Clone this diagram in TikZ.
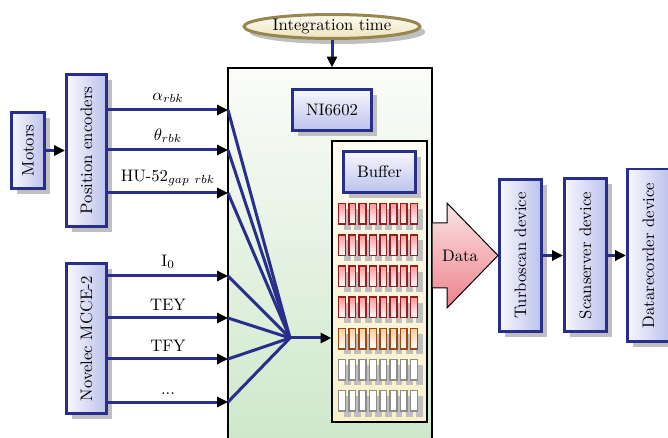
\documentclass[tikz,border=0pt]{standalone}
\usepackage{amsmath}
\usepackage{graphicx}
\usetikzlibrary{arrows.meta,shadows,shapes.geometric}

\definecolor{boxblue}{RGB}{40,46,140}
\definecolor{boxlight}{RGB}{247,247,253}
\definecolor{boxdark}{RGB}{188,194,236}
\definecolor{daqtop}{RGB}{251,252,249}
\definecolor{daqbottom}{RGB}{204,231,200}
\definecolor{buftop}{RGB}{253,252,240}
\definecolor{bufbottom}{RGB}{250,240,198}
\definecolor{khaki}{RGB}{150,134,80}
\definecolor{creamtop}{RGB}{253,251,242}
\definecolor{creambottom}{RGB}{238,228,190}
\definecolor{datatop}{RGB}{251,228,228}
\definecolor{databottom}{RGB}{238,130,140}
\definecolor{cellred}{RGB}{150,30,35}
\definecolor{cellbrown}{RGB}{150,75,25}
\definecolor{cellgray}{RGB}{140,140,140}

\tikzset{
  boxshadow/.style={drop shadow={shadow xshift=3.3pt,shadow yshift=-3.3pt,fill=black!25,opacity=1}},
  hbox/.style={draw=boxblue,line width=1.8pt,top color=boxlight,bottom color=boxdark,boxshadow,inner sep=0pt},
  vbox/.style={draw=boxblue,line width=1.8pt,left color=boxlight,right color=boxdark,boxshadow,inner sep=0pt},
  wire/.style={draw=boxblue,line width=1.8pt},
  feed/.style={wire,-{Triangle[length=6.5pt,width=6pt,black]}},
  cell/.style={line width=0.9pt,minimum width=4.1pt,minimum height=12.3pt,inner sep=0pt,boxshadow}
}

\begin{document}
\begin{tikzpicture}[auto,x=0.6pt,y=-0.6pt]
    \useasboundingbox (0,0) rectangle (668,438);
    \node[draw=black,line width=0.7pt,top color=daqtop,bottom color=daqbottom,
          minimum width=122.4pt,minimum height=235.2pt] (daq) at (330,264) {};
    \node[ellipse,draw=khaki,line width=1.8pt,top color=creamtop,bottom color=creambottom,
          boxshadow,inner sep=0pt,minimum width=105.6pt,minimum height=14.4pt] (integ) at (332,26.5) {Integration time};
    \begin{scope}[every node/.style={vbox}]
        \node[minimum width=19.8pt,minimum height=45.6pt] (motors) at (28,150.5) {\rotatebox{90}{Motors}};
        \node[minimum width=24pt,minimum height=91.2pt] (posenc) at (86.5,150.5) {\rotatebox{90}{Position encoders}};
        \node[minimum width=24pt,minimum height=90pt] (novelec) at (86.5,338.5) {\rotatebox{90}{Novelec MCCE-2}};
        \node[minimum width=25.2pt,minimum height=91.2pt] (turbo) at (520.5,255.5) {\rotatebox{90}{Turboscan device}};
        \node[minimum width=25.2pt,minimum height=91.8pt] (scanserver) at (585.5,255.5) {\rotatebox{90}{Scanserver device}};
        \node[minimum width=25.2pt,minimum height=103.8pt] (datarec) at (648.5,255.5) {\rotatebox{90}{Datarecorder device}};
    \end{scope}
    \node[hbox,minimum width=47.4pt,minimum height=24.6pt] (ni) at (332,110) {NI6602};
    \node[draw=black,line width=0.7pt,top color=buftop,bottom color=bufbottom,
          minimum width=57pt,minimum height=168.6pt] (buf) at (379.5,281.5) {};
    \node[hbox,minimum width=43.2pt,minimum height=24.6pt] (buflabel) at (379.5,172) {Buffer};
    \foreach \row/\edge/\tint in {0/cellred/red!40,1/cellred/red!40,2/cellred/red!40,3/cellred/red!40,
                                  4/cellbrown/orange!40,5/cellgray/white,6/cellgray/white}
        \foreach \col in {0,...,7}
            \node[cell,draw=\edge,top color=\tint,bottom color=white] (c\row\col) at (342+10.3*\col,214+31.15*\row) {};
    \draw[line width=0.6pt,top color=datatop,bottom color=databottom]
        (432,223) -- (447,223) -- (447,203) -- (498,255.5) -- (447,308) -- (447,288) -- (432,288) -- cycle;
    \node (data) at (460,256) {Data};
    \coordinate (ina) at (228,110);
    \coordinate (inb) at (228,150);
    \coordinate (inc) at (228,193);
    \coordinate (ind) at (228,276);
    \coordinate (ine) at (228,318);
    \coordinate (inf) at (228,359);
    \coordinate (ing) at (228,402);
    \coordinate (hub) at (290,338);
    \draw (motors) edge [feed] (posenc);
    \draw (posenc.east |- ina) edge [feed] node{$\alpha_{rbk}$} (ina);
    \draw (posenc.east |- inb) edge [feed] node{$\theta_{rbk}$} (inb);
    \draw (posenc.east |- inc) edge [feed] node{HU-52$_{gap\ rbk}$} (inc);
    \draw (novelec.east |- ind) edge [feed] node{I$_0$} (ind);
    \draw (novelec.east |- ine) edge [feed] node{TEY} (ine);
    \draw (novelec.east |- inf) edge [feed] node{TFY} (inf);
    \draw (novelec.east |- ing) edge [feed] node{...} (ing);
    \draw (ina) edge [wire] (hub);
    \draw (inb) edge [wire] (hub);
    \draw (inc) edge [wire] (hub);
    \draw (ind) edge [wire] (hub);
    \draw (ine) edge [wire] (hub);
    \draw (inf) edge [wire] (hub);
    \draw (ing) edge [wire] (hub);
    \draw (hub) edge [feed] (buf.west |- hub);
    \draw (integ) edge [feed] (integ |- daq.north);
    \draw (turbo) edge [feed] (scanserver);
    \draw (scanserver) edge [feed] (datarec);
\end{tikzpicture}
\end{document}
